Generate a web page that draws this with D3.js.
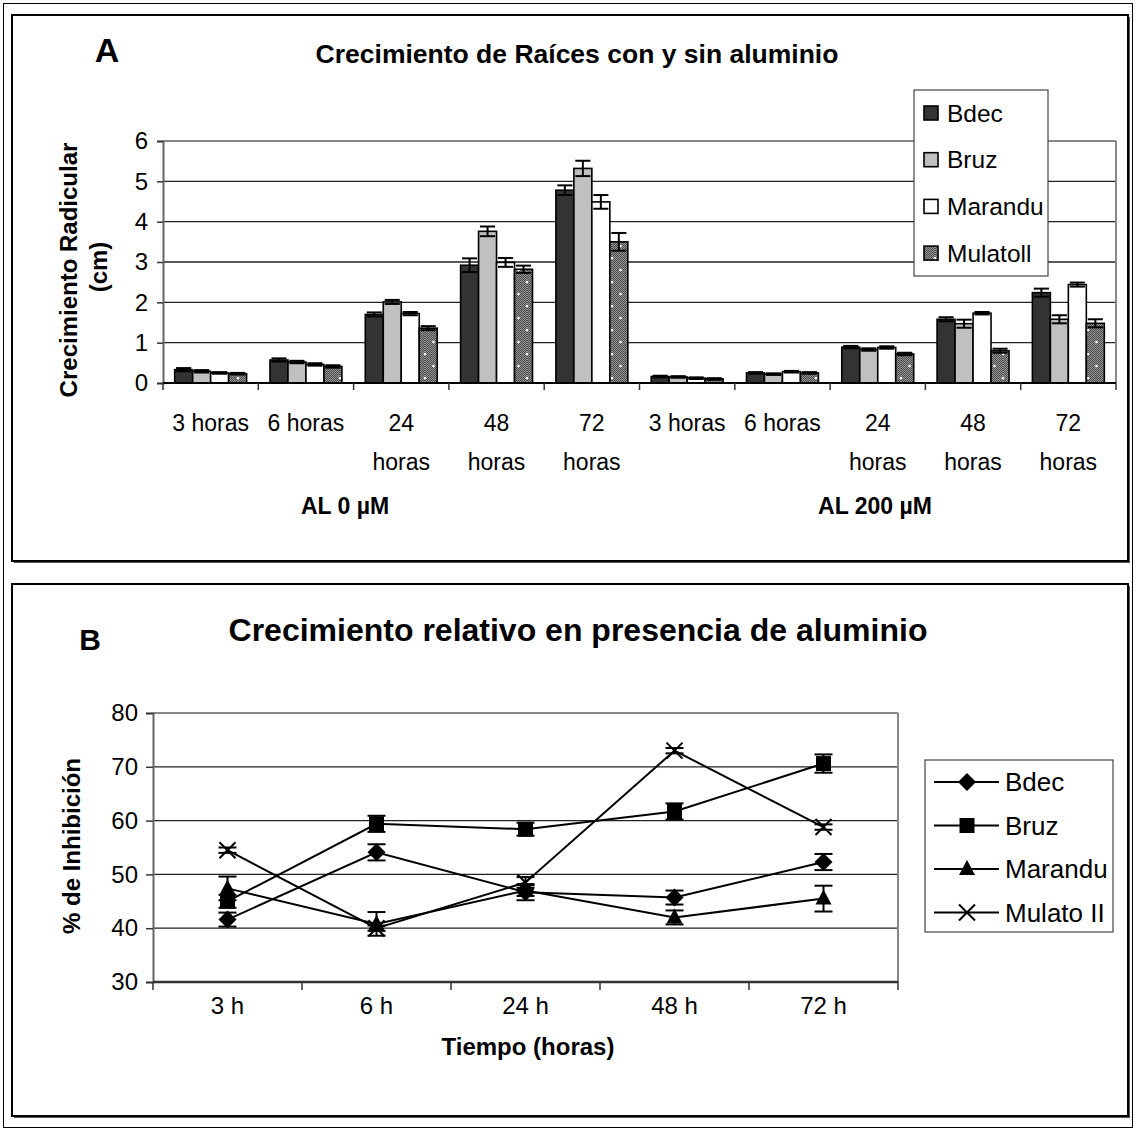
<!DOCTYPE html>
<html><head><meta charset="utf-8">
<script src="https://cdn.jsdelivr.net/npm/d3@7"></script>
<style>body{margin:0;background:#fff}svg{display:block}text{font-family:"Liberation Sans",Arial,sans-serif;fill:#000}</style>
</head><body>
<script>
// ---------- Data ----------
const categoriesA = ["3 horas","6 horas","24 horas","48 horas","72 horas","3 horas","6 horas","24 horas","48 horas","72 horas"];
const groupsA = ["AL 0 µM","AL 200 µM"];
const seriesA = ["Bdec","Bruz","Marandu","Mulatoll"];
const bdecA = [0.33,0.57,1.70,2.92,4.78, 0.16,0.25,0.89,1.58,2.24];
const bruzA = [0.29,0.52,2.01,3.76,5.32, 0.15,0.22,0.83,1.47,1.58];
const marandA = [0.25,0.46,1.72,2.99,4.49, 0.12,0.28,0.88,1.73,2.44];
const mulatoA = [0.23,0.41,1.36,2.82,3.50, 0.10,0.25,0.72,0.80,1.48];
const bdecAErr = [0.04,0.04,0.05,0.17,0.12, 0.02,0.02,0.03,0.05,0.10];
const bruzAErr = [0.03,0.03,0.05,0.12,0.19, 0.02,0.02,0.03,0.10,0.10];
const marandAErr = [0.02,0.03,0.04,0.11,0.17, 0.02,0.02,0.03,0.03,0.05];
const mulatoAErr = [0.02,0.03,0.05,0.09,0.22, 0.02,0.02,0.03,0.05,0.10];
const yTicksA = [0,1,2,3,4,5,6];

const categoriesB = ["3 h","6 h","24 h","48 h","72 h"];
const seriesB = ["Bdec","Bruz","Marandu","Mulato II"];
const bdecB = [41.6,54.1,46.7,45.7,52.3];
const bruzB = [45.0,59.4,58.4,61.7,70.6];
const marandB = [47.4,40.8,47.0,42.0,45.5];
const mulatoB = [54.5,40.0,48.5,73.0,58.8];
const bdecBErr = [1.3,1.5,1.5,1.3,1.5];
const bruzBErr = [1.2,1.5,1.2,1.5,1.7];
const marandBErr = [2.2,2.2,1.0,1.3,2.4];
const mulatoBErr = [0.5,0.5,1.0,0.5,0.5];
const yTicksB = [30,40,50,60,70,80];

// ---------- Setup ----------
const W = 1136, H = 1129;
const svg = d3.select("body").append("svg").attr("width", W).attr("height", H);
const defs = svg.append("defs");
const dith = defs.append("pattern").attr("id","dith").attr("patternUnits","userSpaceOnUse").attr("width",2).attr("height",2);
dith.append("rect").attr("width",2).attr("height",2).attr("fill","#959595");
dith.append("rect").attr("width",1).attr("height",1).attr("fill","#4a4a4a");
dith.append("rect").attr("x",1).attr("y",1).attr("width",1).attr("height",1).attr("fill","#4a4a4a");
const mpat = defs.append("pattern").attr("id","mul").attr("patternUnits","userSpaceOnUse").attr("width",17).attr("height",24);
mpat.append("rect").attr("width",17).attr("height",24).attr("fill","url(#dith)");
[[8.5,6],[0,18],[17,18]].forEach(p=>mpat.append("circle").attr("cx",p[0]).attr("cy",p[1]).attr("r",1.3).attr("fill","#fff"));

const fillsA = ["#333333","#c0c0c0","#ffffff","url(#mul)"];

// Frames
svg.append("rect").attr("x",3.5).attr("y",3.5).attr("width",1129).attr("height",1124).attr("fill","none").attr("stroke","#000").attr("stroke-width",1);
function panel(y,h){
  svg.append("rect").attr("x",14).attr("y",y+2).attr("width",1116).attr("height",h).attr("fill","#555");
  svg.append("rect").attr("x",12).attr("y",y).attr("width",1116).attr("height",h).attr("fill","#fff").attr("stroke","#000").attr("stroke-width",2);
}
panel(15,546);
panel(584,532);

// ---------- Panel A ----------
const plotA = {l:163, r:1116, t:141, b:383};
const x0 = d3.scaleBand().domain(d3.range(categoriesA.length)).range([plotA.l, plotA.r]);
const x1 = d3.scaleBand().domain(seriesA).range([0, x0.bandwidth()]).paddingOuter(0.65);
const yA = d3.scaleLinear().domain([0,6]).range([plotA.b, plotA.t]);

svg.append("text").attr("x",107).attr("y",62).attr("text-anchor","middle").attr("font-size",34).attr("font-weight","bold").text("A");
svg.append("text").attr("x",577).attr("y",63).attr("text-anchor","middle").attr("font-size",26.5).attr("font-weight","bold").text("Crecimiento de Raíces con y sin aluminio");

// gridlines
const gA = svg.append("g");
gA.selectAll("line.grid").data(yTicksA.filter(v=>v>0&&v<6)).join("line")
  .attr("x1",plotA.l).attr("x2",plotA.r).attr("y1",d=>yA(d)).attr("y2",d=>yA(d)).attr("stroke","#222").attr("stroke-width",1.3);
gA.append("line").attr("x1",plotA.l).attr("x2",plotA.r).attr("y1",yA(6)).attr("y2",yA(6)).attr("stroke","#888").attr("stroke-width",2);
gA.append("line").attr("x1",plotA.r).attr("x2",plotA.r).attr("y1",yA(6)).attr("y2",yA(0)).attr("stroke","#888").attr("stroke-width",2);

// y axis
const yAxisA = svg.append("g").attr("transform",`translate(${plotA.l},0)`)
  .call(d3.axisLeft(yA).tickValues(yTicksA).tickSize(6).tickPadding(9).tickFormat(d3.format("d")));
yAxisA.select(".domain").attr("stroke","#666").attr("stroke-width",2);
yAxisA.selectAll(".tick line").attr("stroke","#333").attr("stroke-width",1.5);
yAxisA.selectAll(".tick text").attr("font-size",24).attr("font-family","Liberation Sans, Arial");

// bars
const dataA = [bdecA,bruzA,marandA,mulatoA];
const errA = [bdecAErr,bruzAErr,marandAErr,mulatoAErr];
seriesA.forEach((s,si)=>{
  const g = svg.append("g");
  g.selectAll("rect").data(dataA[si]).join("rect")
    .attr("x",(d,i)=>x0(i)+x1(s)).attr("width",x1.bandwidth())
    .attr("y",d=>yA(d)).attr("height",d=>yA(0)-yA(d))
    .attr("fill",fillsA[si]).attr("stroke","#000").attr("stroke-width",1.6);
  const eg = svg.append("g").attr("stroke","#000").attr("stroke-width",2);
  dataA[si].forEach((v,i)=>{
    const cx = x0(i)+x1(s)+x1.bandwidth()/2, e = errA[si][i], hw = x1.bandwidth()*0.42;
    eg.append("line").attr("x1",cx).attr("x2",cx).attr("y1",yA(v+e)).attr("y2",yA(v-e));
    eg.append("line").attr("x1",cx-hw).attr("x2",cx+hw).attr("y1",yA(v+e)).attr("y2",yA(v+e));
    eg.append("line").attr("x1",cx-hw).attr("x2",cx+hw).attr("y1",yA(v-e)).attr("y2",yA(v-e));
  });
});

// x axis
svg.append("line").attr("x1",plotA.l).attr("x2",plotA.r).attr("y1",yA(0)).attr("y2",yA(0)).attr("stroke","#000").attr("stroke-width",2);
const bounds = d3.range(categoriesA.length+1).map(i=> i<categoriesA.length ? x0(i) : plotA.r);
svg.append("g").selectAll("line").data(bounds).join("line")
  .attr("x1",d=>d).attr("x2",d=>d).attr("y1",yA(0)).attr("y2",yA(0)+7).attr("stroke","#333").attr("stroke-width",1.5);
const xl = svg.append("g");
categoriesA.forEach((c,i)=>{
  const cx = x0(i)+x0.bandwidth()/2;
  const parts = c.startsWith("3 ")||c.startsWith("6 ") ? [c] : c.split(" ");
  parts.forEach((p,k)=> xl.append("text").attr("x",cx).attr("y",431+k*39).attr("text-anchor","middle").attr("font-size",23).text(p));
});
[[345,groupsA[0]],[875,groupsA[1]]].forEach(([x,t])=>svg.append("text").attr("x",x).attr("y",514).attr("text-anchor","middle").attr("font-size",23).attr("font-weight","bold").text(t));

// y label
svg.append("text").attr("transform","translate(77,270) rotate(-90)").attr("text-anchor","middle").attr("font-size",24).attr("font-weight","bold").text("Crecimiento Radicular");
svg.append("text").attr("transform","translate(107,267) rotate(-90)").attr("text-anchor","middle").attr("font-size",24).attr("font-weight","bold").text("(cm)");

// legend A
const legA = svg.append("g");
legA.append("rect").attr("x",914).attr("y",90).attr("width",134).attr("height",186).attr("fill","#fff").attr("stroke","#444").attr("stroke-width",1.2);
seriesA.forEach((s,i)=>{
  const cy = 113 + i*46.7;
  legA.append("rect").attr("x",924).attr("y",cy-7).attr("width",14).attr("height",14).attr("fill",fillsA[i]).attr("stroke","#000").attr("stroke-width",1.6);
  legA.append("text").attr("x",947).attr("y",cy+8.5).attr("font-size",24.5).text(s);
});

// ---------- Panel B ----------
const plotB = {l:153, r:898, t:713, b:982};
const xB = d3.scaleBand().domain(categoriesB).range([plotB.l, plotB.r]);
const yB = d3.scaleLinear().domain([30,80]).range([plotB.b, plotB.t]);

svg.append("text").attr("x",90).attr("y",650).attr("text-anchor","middle").attr("font-size",30).attr("font-weight","bold").text("B");
svg.append("text").attr("x",578).attr("y",641).attr("text-anchor","middle").attr("font-size",32).attr("font-weight","bold").text("Crecimiento relativo en presencia de aluminio");

const gB = svg.append("g");
gB.selectAll("line").data(yTicksB.filter(v=>v>30&&v<80)).join("line")
  .attr("x1",plotB.l).attr("x2",plotB.r).attr("y1",d=>yB(d)).attr("y2",d=>yB(d)).attr("stroke","#222").attr("stroke-width",1.3);
gB.append("line").attr("x1",plotB.l).attr("x2",plotB.r).attr("y1",yB(80)).attr("y2",yB(80)).attr("stroke","#888").attr("stroke-width",2);
gB.append("line").attr("x1",plotB.r).attr("x2",plotB.r).attr("y1",yB(80)).attr("y2",yB(30)).attr("stroke","#888").attr("stroke-width",2);

const yAxisB = svg.append("g").attr("transform",`translate(${plotB.l},0)`)
  .call(d3.axisLeft(yB).tickValues(yTicksB).tickSize(7).tickPadding(8).tickFormat(d3.format("d")));
yAxisB.select(".domain").attr("stroke","#666").attr("stroke-width",2);
yAxisB.selectAll(".tick line").attr("stroke","#333").attr("stroke-width",1.5);
yAxisB.selectAll(".tick text").attr("font-size",24).attr("font-family","Liberation Sans, Arial");

svg.append("line").attr("x1",plotB.l).attr("x2",plotB.r).attr("y1",yB(30)).attr("y2",yB(30)).attr("stroke","#333").attr("stroke-width",2.5);
const boundsB = d3.range(categoriesB.length+1).map(i=> i<categoriesB.length ? xB(categoriesB[i]) : plotB.r);
svg.append("g").selectAll("line").data(boundsB).join("line")
  .attr("x1",d=>d).attr("x2",d=>d).attr("y1",yB(30)).attr("y2",yB(30)+8).attr("stroke","#333").attr("stroke-width",1.5);
svg.append("g").selectAll("text").data(categoriesB).join("text")
  .attr("x",d=>xB(d)+xB.bandwidth()/2).attr("y",1014).attr("text-anchor","middle").attr("font-size",24).text(d=>d);
svg.append("text").attr("x",528).attr("y",1055).attr("text-anchor","middle").attr("font-size",24).attr("font-weight","bold").text("Tiempo (horas)");
svg.append("text").attr("transform","translate(80,846) rotate(-90)").attr("text-anchor","middle").attr("font-size",24).attr("font-weight","bold").text("% de Inhibición");

const dataB = [bdecB,bruzB,marandB,mulatoB];
const errB = [bdecBErr,bruzBErr,marandBErr,mulatoBErr];
function marker(g, si, cx, cy){
  if (si===3){
    const r=8;
    g.append("path").attr("d",`M${cx-r},${cy-r}L${cx+r},${cy+r}M${cx-r},${cy+r}L${cx+r},${cy-r}`).attr("stroke","#000").attr("stroke-width",2).attr("fill","none");
  } else if (si===0){
    const r=9;
    g.append("path").attr("d",`M${cx},${cy-r}L${cx+r},${cy}L${cx},${cy+r}L${cx-r},${cy}Z`).attr("fill","#000");
  } else if (si===1){
    g.append("rect").attr("x",cx-7.5).attr("y",cy-7.5).attr("width",15).attr("height",15).attr("fill","#000");
  } else {
    g.append("path").attr("d",`M${cx},${cy-9}L${cx+8},${cy+6}L${cx-8},${cy+6}Z`).attr("fill","#000");
  }
}
const cxB = d=>xB(d)+xB.bandwidth()/2;
seriesB.forEach((s,si)=>{
  const g = svg.append("g");
  const line = d3.line().x((d,i)=>cxB(categoriesB[i])).y(d=>yB(d));
  g.append("path").datum(dataB[si]).attr("d",line).attr("fill","none").attr("stroke","#000").attr("stroke-width",2);
  dataB[si].forEach((v,i)=>{
    const cx = cxB(categoriesB[i]), e = errB[si][i];
    const eg = g.append("g").attr("stroke","#000").attr("stroke-width",2);
    eg.append("line").attr("x1",cx).attr("x2",cx).attr("y1",yB(v+e)).attr("y2",yB(v-e));
    eg.append("line").attr("x1",cx-9).attr("x2",cx+9).attr("y1",yB(v+e)).attr("y2",yB(v+e));
    eg.append("line").attr("x1",cx-9).attr("x2",cx+9).attr("y1",yB(v-e)).attr("y2",yB(v-e));
    marker(g, si, cx, yB(v));
  });
});

// legend B
const legB = svg.append("g");
legB.append("rect").attr("x",925).attr("y",760).attr("width",188).attr("height",172).attr("fill","#fff").attr("stroke","#444").attr("stroke-width",1.2);
seriesB.forEach((s,i)=>{
  const cy = 782 + i*43.5;
  legB.append("line").attr("x1",934).attr("x2",999).attr("y1",cy).attr("y2",cy).attr("stroke","#000").attr("stroke-width",2);
  marker(legB, i, 967, cy);
  legB.append("text").attr("x",1005).attr("y",cy+9).attr("font-size",26).text(s);
});
</script>
</body></html>
